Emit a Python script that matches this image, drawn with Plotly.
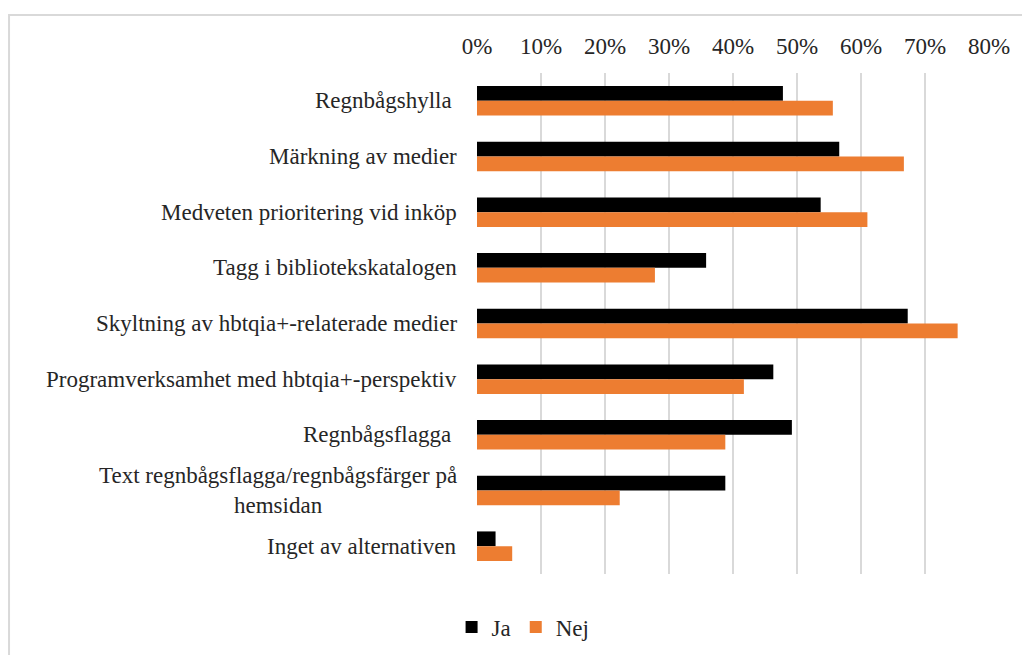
import plotly.graph_objects as go

# kategorier, uppifrån och ned
kategorier = [
    'Regnbågshylla\u00a0',
    'Märkning av medier',
    'Medveten prioritering vid inköp',
    'Tagg i bibliotekskatalogen',
    'Skyltning av hbtqia+-relaterade medier',
    'Programverksamhet med hbtqia+-perspektiv',
    'Regnbågsflagga\u00a0',
    'Text regnbågsflagga/regnbågsfärger på<br>hemsidan',
    'Inget av alternativen',
]
ja = [0.478, 0.566, 0.537, 0.358, 0.673, 0.463, 0.492, 0.388, 0.029]
nej = [0.556, 0.667, 0.610, 0.278, 0.751, 0.417, 0.388, 0.223, 0.055]
x_ticks = [0, 0.1, 0.2, 0.3, 0.4, 0.5, 0.6, 0.7, 0.8]

FONT = 'Liberation Serif, Times New Roman, serif'
FS = 23

fig = go.Figure()
fig.add_trace(go.Bar(y=kategorier, x=ja, name='Ja', orientation='h',
                     marker=dict(color='#000000', line=dict(width=0))))
fig.add_trace(go.Bar(y=kategorier, x=nej, name='Nej', orientation='h',
                     marker=dict(color='#ED7D31', line=dict(width=0))))

# kategorietiketter som annoteringar (centrerade radbrytningar)
for k in kategorier:
    fig.add_annotation(x=0, y=k, xref='paper', yref='y', text=k,
                       showarrow=False, xanchor='right', yanchor='middle',
                       xshift=-18, align='center',
                       font=dict(family=FONT, size=FS, color='#262626'))

# ram runt diagrammet
fig.add_shape(type='rect', xref='paper', yref='paper',
              x0=-0.914, x1=1.2, y0=-0.25, y1=1.1158,
              line=dict(color='#D9D9D9', width=2), layer='below')

# sidan har 8 px marginal i body, därför flyttas allt 8 px upp/vänster
fig.update_layout(
    width=1030, height=655,
    margin=dict(l=469, r=49, t=65, b=89, autoexpand=False),
    barmode='group', bargap=0.47, bargroupgap=0,
    plot_bgcolor='white', paper_bgcolor='white',
    font=dict(family=FONT, size=FS, color='#262626'),
    showlegend=True,
    legend=dict(orientation='h', x=0.09, y=-0.106, xanchor='center', yanchor='middle',
                font=dict(family=FONT, size=FS, color='#262626'),
                itemwidth=30, traceorder='normal'),
    xaxis=dict(side='top', range=[0, 0.8], tickvals=x_ticks, tickformat='.0%',
               showgrid=True, gridcolor='#D9D9D9', gridwidth=2, automargin=False,
               zeroline=False, showline=False, ticks='', ticklabelstandoff=13),
    yaxis=dict(autorange='reversed', showticklabels=False, showgrid=False,
               automargin=False, zeroline=False, showline=False, ticks=''),
)

fig.write_html("out.html")
